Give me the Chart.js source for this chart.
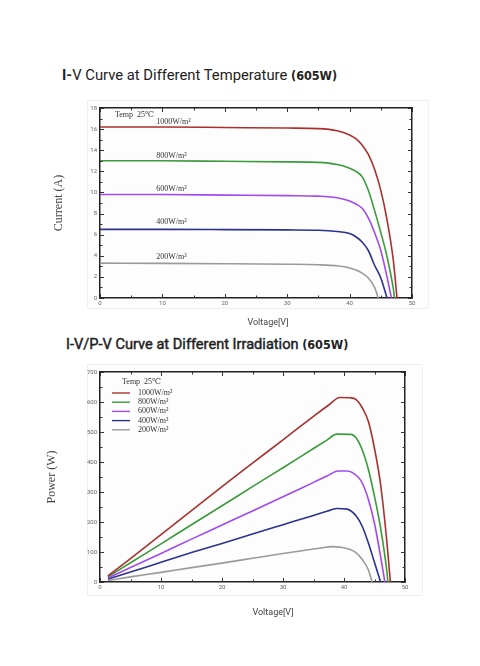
<!DOCTYPE html>
<html>
<head>
<meta charset="utf-8">
<script src="https://cdn.jsdelivr.net/npm/chart.js@4.4.1/dist/chart.umd.min.js"></script>
<style>
  body { margin: 0; width: 480px; height: 666px; background: #fff; position: relative; overflow: hidden; font-family: Roboto, "DejaVu Sans", sans-serif; }
  .title { position: absolute; color: #222; white-space: nowrap; font-size: 14.8px; line-height: 15px; }
  .cond { font-family: "DejaVu Sans Condensed", "Liberation Sans Narrow", sans-serif; font-weight: bold; font-stretch: condensed; font-size: 12.5px; -webkit-text-stroke: 0; }
  .panel { position: absolute; border: 1px solid #efefef; background: #fdfdfd; }
  .box { position: absolute; }
  .xtitle { position: absolute; font-size: 9px; line-height: 10px; color: #444; transform: translateX(-50%); white-space: nowrap; }
</style>
</head>
<body>
<div class="title" style="left:62px;top:68px"><b>I-</b>V Curve at Different Temperature <span class="cond">(605W)</span></div>
<div class="title" style="left:66px;top:337px;font-size:14.6px;-webkit-text-stroke:0.45px #222">I-V/P-V Curve at Different Irradiation <span class="cond">(605W)</span></div>

<div class="panel" style="left:87px;top:100px;width:340px;height:207px"></div>
<div class="panel" style="left:87px;top:364px;width:334px;height:230px"></div>

<div class="box" style="left:40px;top:95px;width:400px;height:240px"><canvas id="ivChart"></canvas></div>
<div class="box" style="left:40px;top:360px;width:400px;height:262px"><canvas id="pvChart"></canvas></div>

<div class="xtitle" style="left:268px;top:317px">Voltage[V]</div>
<div class="xtitle" style="left:273px;top:607px">Voltage[V]</div>

<script>
const irradianceLabels = ['1000W/m²', '800W/m²', '600W/m²', '400W/m²', '200W/m²'];
const tempLabel = 'Temp  25℃';

// I-V curves (voltage V, current A)
const ivVolt1000 = [0, 10, 20, 30, 35, 38, 40, 41, 42, 43, 44, 45, 46, 47, 47.6];
const ivAmp1000 = [16.2, 16.2, 16.15, 16.1, 16.05, 15.85, 15.45, 15.1, 14.5, 13.6, 12.2, 10.2, 7.4, 3.6, 0];
const ivVolt800 = [0, 10, 20, 30, 35, 38, 40, 41, 42, 43, 44, 45, 46, 47, 47.2];
const ivAmp800 = [13.0, 13.0, 12.95, 12.9, 12.85, 12.65, 12.3, 12.0, 11.5, 10.2, 8.3, 6.2, 3.9, 0.9, 0];
const ivVolt600 = [0, 10, 20, 30, 35, 38, 40, 41, 42, 43, 44, 45, 46, 46.7];
const ivAmp600 = [9.8, 9.8, 9.75, 9.7, 9.65, 9.5, 9.2, 8.9, 8.5, 7.6, 6.2, 4.5, 2.0, 0];
const ivVolt400 = [0, 10, 20, 30, 35, 38, 40, 41, 42, 43, 44, 45, 46];
const ivAmp400 = [6.5, 6.5, 6.48, 6.45, 6.42, 6.3, 6.1, 5.8, 5.3, 4.5, 3.1, 1.9, 0];
const ivVolt200 = [0, 10, 20, 30, 35, 38, 40, 41, 42, 43, 44, 44.6];
const ivAmp200 = [3.3, 3.28, 3.25, 3.2, 3.15, 3.05, 2.85, 2.65, 2.35, 1.9, 1.0, 0];

// P-V curves (voltage V, power W)
const pvVolt1000 = [1.3, 5, 10, 15, 20, 25, 30, 35, 37.5, 39.3, 41, 42, 43, 44, 45, 46, 47, 47.6];
const pvWatt1000 = [20, 78, 158, 238, 318, 396, 474, 552, 590, 615, 614, 608, 580, 535, 445, 325, 140, 0];
const pvVolt800 = [1.3, 5, 10, 15, 20, 25, 30, 35, 37.2, 38.8, 41.2, 42, 43, 44, 45, 46, 47, 47.2];
const pvWatt800 = [17, 64, 127, 191, 254, 318, 381, 445, 473, 493, 492, 480, 440, 375, 285, 180, 40, 0];
const pvVolt600 = [1.3, 5, 10, 15, 20, 25, 30, 35, 37.3, 39, 40.5, 42.3, 43, 44, 45, 46, 46.7];
const pvWatt600 = [13, 48, 95, 143, 190, 237, 284, 332, 354, 370, 370, 350, 330, 275, 195, 85, 0];
const pvVolt400 = [1.3, 5, 10, 15, 20, 25, 30, 35, 37.2, 38.8, 40.5, 42, 43, 44, 45, 46];
const pvWatt400 = [10, 33, 66, 98, 128, 160, 191, 222, 236, 245, 243, 220, 185, 130, 65, 0];
const pvVolt200 = [1.3, 5, 10, 15, 20, 25, 30, 35, 36.5, 38, 39.5, 41, 42, 43, 44, 44.6];
const pvWatt200 = [5, 17, 32, 48, 63, 79, 95, 110, 114, 118, 116, 108, 97, 75, 40, 0];

const lineColors = ['#a8312f', '#3b9b3b', '#a24af0', '#2b318f', '#9a9a9a'];

const zip = (xs, ys) => xs.map((x, i) => ({ x, y: ys[i] }));

const ivSeries = [
  zip(ivVolt1000, ivAmp1000), zip(ivVolt800, ivAmp800), zip(ivVolt600, ivAmp600),
  zip(ivVolt400, ivAmp400), zip(ivVolt200, ivAmp200),
];
const pvSeries = [
  zip(pvVolt1000, pvWatt1000), zip(pvVolt800, pvWatt800), zip(pvVolt600, pvWatt600),
  zip(pvVolt400, pvWatt400), zip(pvVolt200, pvWatt200),
];

const makeDatasets = (series) => series.map((pts, i) => ({
  label: irradianceLabels[i],
  data: pts,
  borderColor: lineColors[i],
  borderWidth: 1.6,
  pointRadius: 0,
  cubicInterpolationMode: 'monotone',
  fill: false,
}));

// small ticks pointing into the plot, on all four sides
const innerTicks = {
  id: 'innerTicks',
  afterDraw(chart) {
    const { ctx, chartArea: a, scales: { x, y } } = chart;
    ctx.save();
    ctx.strokeStyle = '#333';
    ctx.lineWidth = 1;
    ctx.beginPath();
    x.ticks.forEach((t) => {
      const px = Math.round(x.getPixelForValue(t.value)) + 0.5;
      const len = t.label !== '' ? 4 : 2.5;
      ctx.moveTo(px, a.bottom); ctx.lineTo(px, a.bottom - len);
      ctx.moveTo(px, a.top); ctx.lineTo(px, a.top + len);
    });
    y.ticks.forEach((t) => {
      const py = Math.round(y.getPixelForValue(t.value)) + 0.5;
      const len = t.label !== '' ? 4 : 2.5;
      ctx.moveTo(a.left, py); ctx.lineTo(a.left + len, py);
      ctx.moveTo(a.right, py); ctx.lineTo(a.right - len, py);
    });
    ctx.stroke();
    ctx.restore();
  },
};

const serif = '"Liberation Serif", "DejaVu Serif", serif';

// curve labels written next to each I-V line
const ivLabels = {
  id: 'ivLabels',
  afterDatasetsDraw(chart) {
    const { ctx, scales: { x, y } } = chart;
    const at = [[9, 16.7], [9, 13.5], [9, 10.3], [9, 7.2], [9, 3.9]];
    ctx.save();
    ctx.fillStyle = '#333';
    ctx.font = '8px ' + serif;
    ctx.textBaseline = 'middle';
    ctx.fillText(tempLabel, x.getPixelForValue(2.4), y.getPixelForValue(17.3));
    irradianceLabels.forEach((lab, i) => {
      ctx.fillText(lab, x.getPixelForValue(at[i][0]), y.getPixelForValue(at[i][1]));
    });
    ctx.restore();
  },
};

// legend box in the top-left corner of the P-V plot
const pvLegend = {
  id: 'pvLegend',
  afterDatasetsDraw(chart) {
    const { ctx, chartArea: a } = chart;
    ctx.save();
    ctx.fillStyle = '#333';
    ctx.font = '8px ' + serif;
    ctx.textBaseline = 'middle';
    ctx.fillText(tempLabel, a.left + 22, a.top + 10);
    chart.data.datasets.forEach((ds, i) => {
      const yy = a.top + 21 + i * 9.2;
      ctx.strokeStyle = ds.borderColor;
      ctx.lineWidth = 1.4;
      ctx.beginPath();
      ctx.moveTo(a.left + 12, yy);
      ctx.lineTo(a.left + 30, yy);
      ctx.stroke();
      ctx.fillText(ds.label, a.left + 38, yy);
    });
    ctx.restore();
  },
};

const tickFont = { family: 'Roboto, "DejaVu Sans", sans-serif', size: 6 };

const makeOptions = ({ yMax, yStep, yTitle, yTitlePad, padRight, padTop, xHeight }) => ({
  animation: false,
  responsive: true,
  maintainAspectRatio: false,
  layout: { padding: { top: padTop, right: padRight, bottom: 0, left: 0 } },
  plugins: { legend: { display: false }, tooltip: { enabled: false } },
  scales: {
    x: {
      type: 'linear', position: 'bottom', min: 0, max: 50,
      ticks: {
        stepSize: 5, autoSkip: false, maxRotation: 0, padding: 2,
        color: '#666', font: tickFont,
        callback: (v) => (v % 10 === 0 ? v : ''),
      },
      grid: { display: false, drawTicks: false },
      border: { display: true, color: '#222', width: 1.5 },
      afterFit: (s) => { s.height = xHeight; },
    },
    y: {
      type: 'linear', position: 'left', min: 0, max: yMax,
      ticks: {
        stepSize: yStep / 2, autoSkip: false, padding: 3,
        color: '#666', font: tickFont,
        callback: (v) => (Math.round(v / yStep) * yStep === v ? v : ''),
      },
      grid: { display: false, drawTicks: false },
      border: { display: true, color: '#222', width: 1.5 },
      title: {
        display: true, text: yTitle, color: '#444',
        font: { family: serif, size: 12 }, padding: { top: yTitlePad, bottom: 0 },
      },
      afterFit: (s) => { s.width = 60; },
    },
    x2: {
      type: 'linear', position: 'top', min: 0, max: 50,
      ticks: { display: false },
      grid: { display: false, drawTicks: false },
      border: { display: true, color: '#222', width: 1.5 },
      afterFit: (s) => { s.height = 0; },
    },
    y2: {
      type: 'linear', position: 'right', min: 0, max: yMax,
      ticks: { display: false },
      grid: { display: false, drawTicks: false },
      border: { display: true, color: '#222', width: 1.5 },
      afterFit: (s) => { s.width = 0; },
    },
  },
});

new Chart(document.getElementById('ivChart'), {
  type: 'line',
  data: { datasets: makeDatasets(ivSeries) },
  options: makeOptions({ yMax: 18, yStep: 2, yTitle: 'Current (A)', yTitlePad: 12, padRight: 28, padTop: 13, xHeight: 37 }),
  plugins: [innerTicks, ivLabels],
});

new Chart(document.getElementById('pvChart'), {
  type: 'line',
  data: { datasets: makeDatasets(pvSeries) },
  options: makeOptions({ yMax: 700, yStep: 100, yTitle: 'Power (W)', yTitlePad: 5, padRight: 35, padTop: 12, xHeight: 40 }),
  plugins: [innerTicks, pvLegend],
});
</script>
</body>
</html>
